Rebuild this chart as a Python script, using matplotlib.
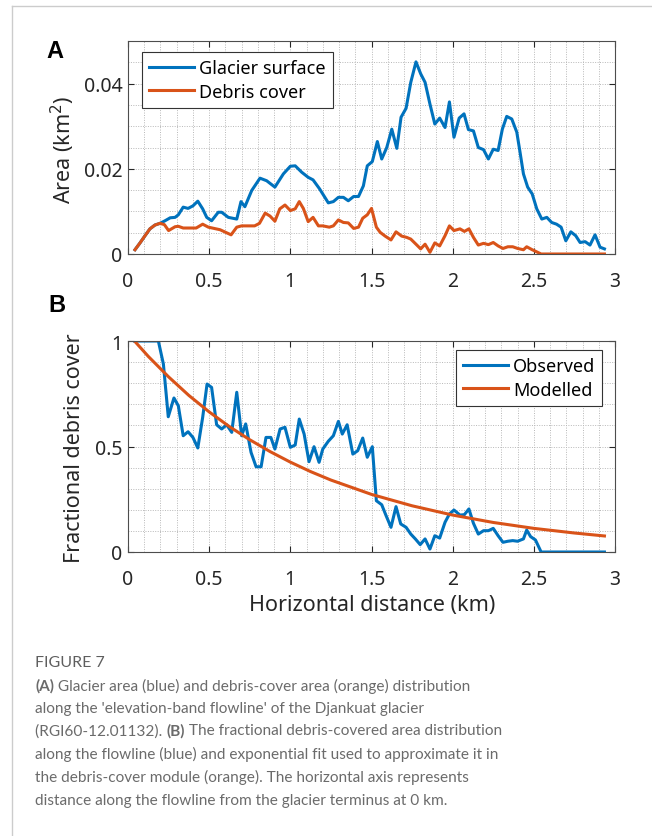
import matplotlib
matplotlib.use('Agg')
import matplotlib.pyplot as plt
from matplotlib.lines import Line2D
from matplotlib.ticker import MultipleLocator

# ---- data ----
# panel A, glacier surface area per elevation band (km2)
glac_x = [0.043, 0.074, 0.105, 0.135, 0.166, 0.197, 0.228, 0.26, 0.29, 0.31,
          0.34, 0.37, 0.40, 0.43, 0.46, 0.485, 0.515, 0.556, 0.577, 0.618,
          0.67, 0.696, 0.72, 0.762, 0.813, 0.854, 0.905, 0.957, 1.0, 1.03,
          1.07, 1.11, 1.14, 1.18, 1.234, 1.265, 1.296, 1.327, 1.357, 1.39,
          1.42, 1.45, 1.474, 1.505, 1.536, 1.563, 1.594, 1.625, 1.656, 1.682,
          1.713, 1.742, 1.774, 1.803, 1.83, 1.86, 1.89, 1.92, 1.953, 1.98,
          2.008, 2.04, 2.07, 2.097, 2.128, 2.158, 2.19, 2.22, 2.25, 2.28,
          2.306, 2.333, 2.364, 2.395, 2.415, 2.436, 2.462, 2.49, 2.518, 2.549,
          2.58, 2.61, 2.64, 2.668, 2.697, 2.728, 2.758, 2.785, 2.816, 2.846,
          2.877, 2.908, 2.935]
glac_area = [0.001, 0.0026, 0.0043, 0.0059, 0.0068, 0.0072, 0.0078, 0.0085, 0.0086, 0.0092,
             0.011, 0.0107, 0.0113, 0.0124, 0.0106, 0.0086, 0.0078, 0.0098, 0.0098, 0.0086,
             0.0082, 0.0123, 0.0111, 0.0149, 0.0178, 0.0172, 0.0157, 0.0188, 0.0206, 0.0207,
             0.0192, 0.018, 0.0174, 0.0153, 0.012, 0.0123, 0.0133, 0.0133, 0.0125, 0.0135,
             0.0135, 0.016, 0.0207, 0.0217, 0.0264, 0.0223, 0.025, 0.0293, 0.0248, 0.0321,
             0.0342, 0.0403, 0.0451, 0.0423, 0.0403, 0.0352, 0.0305, 0.0319, 0.0297, 0.0357,
             0.0274, 0.0319, 0.0329, 0.0292, 0.0289, 0.025, 0.0245, 0.0223, 0.0246, 0.0243,
             0.0293, 0.0323, 0.0317, 0.0286, 0.0239, 0.0188, 0.0157, 0.0141, 0.0106, 0.0082,
             0.0086, 0.0074, 0.007, 0.0063, 0.0031, 0.0052, 0.0043, 0.0027, 0.0029, 0.0021,
             0.0045, 0.0016, 0.0012]

# panel A, debris-covered area (km2)
debris_x = [0.043, 0.074, 0.105, 0.135, 0.166, 0.197, 0.224, 0.25, 0.29, 0.31,
            0.34, 0.42, 0.46, 0.495, 0.567, 0.635, 0.67, 0.70, 0.78, 0.81,
            0.845, 0.875, 0.905, 0.935, 0.967, 1.0, 1.03, 1.055, 1.08, 1.11,
            1.14, 1.173, 1.2, 1.24, 1.265, 1.296, 1.327, 1.357, 1.39, 1.42,
            1.446, 1.474, 1.5, 1.53, 1.553, 1.584, 1.62, 1.651, 1.686, 1.717,
            1.742, 1.774, 1.803, 1.83, 1.86, 1.89, 1.92, 1.953, 1.98, 2.008,
            2.045, 2.072, 2.1, 2.128, 2.158, 2.19, 2.22, 2.25, 2.28, 2.31,
            2.34, 2.37, 2.4, 2.436, 2.456, 2.49, 2.518, 2.545, 2.935]
debris_area = [0.001, 0.0026, 0.0043, 0.0059, 0.0068, 0.0072, 0.0069, 0.0055, 0.0064, 0.0065,
               0.0061, 0.0061, 0.007, 0.0063, 0.0057, 0.0045, 0.0063, 0.0066, 0.0066, 0.0072,
               0.0096, 0.0089, 0.0077, 0.0106, 0.0115, 0.0102, 0.0106, 0.0123, 0.0107, 0.0076,
               0.0086, 0.0066, 0.0066, 0.0063, 0.0066, 0.008, 0.0074, 0.0073, 0.006, 0.0063,
               0.0084, 0.0092, 0.0107, 0.0063, 0.0051, 0.0042, 0.0033, 0.0052, 0.0042, 0.0039,
               0.0035, 0.0023, 0.0012, 0.0023, 0.0004, 0.0026, 0.0019, 0.0043, 0.0066, 0.0055,
               0.0059, 0.0053, 0.0059, 0.0039, 0.0021, 0.0025, 0.0022, 0.0027, 0.0019, 0.0013,
               0.0017, 0.0017, 0.0013, 0.001, 0.0017, 0.001, 0.0005, 0.0, 0.0]

# panel B, observed fractional debris cover
obs_x = [0.04, 0.187, 0.218, 0.248, 0.283, 0.31, 0.34, 0.37, 0.40, 0.43,
         0.46, 0.487, 0.515, 0.546, 0.577, 0.608, 0.639, 0.67, 0.70, 0.725,
         0.758, 0.789, 0.82, 0.85, 0.88, 0.905, 0.937, 0.967, 1.0, 1.03,
         1.055, 1.085, 1.115, 1.146, 1.177, 1.2, 1.234, 1.265, 1.296, 1.32,
         1.35, 1.385, 1.415, 1.446, 1.474, 1.505, 1.53, 1.563, 1.59, 1.62,
         1.651, 1.68, 1.713, 1.742, 1.77, 1.8, 1.83, 1.86, 1.89, 1.92,
         1.953, 1.98, 2.008, 2.045, 2.072, 2.1, 2.128, 2.158, 2.19, 2.22,
         2.25, 2.28, 2.31, 2.34, 2.37, 2.4, 2.436, 2.456, 2.48, 2.51,
         2.545, 2.935]
obs_frac = [1.0, 1.0, 0.891, 0.641, 0.73, 0.693, 0.551, 0.57, 0.543, 0.493,
            0.638, 0.796, 0.78, 0.603, 0.583, 0.603, 0.567, 0.757, 0.551, 0.607,
            0.472, 0.404, 0.404, 0.543, 0.543, 0.488, 0.583, 0.591, 0.496, 0.507,
            0.63, 0.559, 0.428, 0.499, 0.425, 0.488, 0.525, 0.551, 0.619, 0.559,
            0.603, 0.464, 0.48, 0.54, 0.449, 0.499, 0.243, 0.224, 0.172, 0.117,
            0.215, 0.133, 0.117, 0.085, 0.062, 0.035, 0.062, 0.014, 0.077, 0.066,
            0.141, 0.18, 0.199, 0.175, 0.177, 0.204, 0.136, 0.085, 0.101, 0.101,
            0.112, 0.077, 0.046, 0.051, 0.054, 0.051, 0.062, 0.104, 0.073, 0.057,
            0.0, 0.0]

# panel B, modelled (exponential fit) values
mod_x = [0.04, 0.125, 0.25, 0.375, 0.5, 0.625, 0.75, 0.875, 1.0, 1.125,
         1.25, 1.5, 1.75, 2.0, 2.25, 2.5, 2.75, 2.935]
mod_frac = [1.0, 0.927, 0.83, 0.742, 0.664, 0.594, 0.532, 0.476, 0.426, 0.381,
            0.341, 0.273, 0.219, 0.175, 0.14, 0.112, 0.09, 0.076]

x_ticks = [0, 0.5, 1, 1.5, 2, 2.5, 3]
x_tick_labels = ['0', '0.5', '1', '1.5', '2', '2.5', '3']

caption_lines = [
    [('(A)', True), (' Glacier area (blue) and debris-cover area (orange) distribution', False)],
    [("along the 'elevation-band flowline' of the Djankuat glacier", False)],
    [('(RGI60-12.01132). ', False), ('(B)', True), (' The fractional debris-covered area distribution', False)],
    [('along the flowline (blue) and exponential fit used to approximate it in', False)],
    [('the debris-cover module (orange). The horizontal axis represents', False)],
    [('distance along the flowline from the glacier terminus at 0 km.', False)],
]

BLUE = '#0072BD'
ORANGE = '#D95319'
W, H = 652, 837

plt.rcParams['font.family'] = ['Noto Sans', 'DejaVu Sans']

fig = plt.figure(figsize=(W / 100, H / 100), dpi=100)


def px_axes(left, top, right, bottom):
    return fig.add_axes([left / W, 1 - bottom / H, (right - left) / W, (bottom - top) / H])


def style_axes(ax, ymax, ymajor, yminor, yticklabels):
    ax.set_xlim(0, 3)
    ax.set_ylim(0, ymax)
    ax.set_xticks(x_ticks)
    ax.set_xticklabels(x_tick_labels)
    ax.set_yticks([i * ymajor for i in range(len(yticklabels))])
    ax.set_yticklabels(yticklabels)
    ax.xaxis.set_minor_locator(MultipleLocator(0.1))
    ax.yaxis.set_minor_locator(MultipleLocator(yminor))
    ax.grid(which='both', color='#b8b8b8', linestyle=(0, (1, 1.5)), linewidth=0.7)
    ax.set_axisbelow(True)
    ax.tick_params(which='major', direction='in', length=4, width=0.8, top=True, right=True,
                   labelsize=14, colors='#262626', pad=12.5)
    ax.tick_params(which='minor', length=0)
    ax.tick_params(axis='y', pad=4)
    for s in ax.spines.values():
        s.set_color('#4d4d4d')
        s.set_linewidth(0.8)


def add_legend(ax, loc, anchor):
    leg = ax.legend(loc=loc, bbox_to_anchor=anchor, fontsize=13,
                    handlelength=2.5, handletextpad=0.25, borderpad=0.4, labelspacing=0.32,
                    borderaxespad=0, fancybox=False, framealpha=1, edgecolor='#333333')
    leg.get_frame().set_linewidth(0.8)
    return leg


# panel A
axA = px_axes(128, 42, 615, 255)
axA.plot(glac_x, glac_area, color=BLUE, lw=2.2, label='Glacier surface')
axA.plot(debris_x, debris_area, color=ORANGE, lw=2.2, label='Debris cover')
style_axes(axA, 0.05, 0.02, 0.005, ['0', '0.02', '0.04'])
add_legend(axA, 'upper left', (0.029, 0.95))

# panel B
axB = px_axes(128, 342, 615, 553)
axB.plot(obs_x, obs_frac, color=BLUE, lw=2.2, label='Observed')
axB.plot(mod_x, mod_frac, color=ORANGE, lw=2.2, label='Modelled')
style_axes(axB, 1.0, 0.5, 0.1, ['0', '0.5', '1'])
add_legend(axB, 'upper right', (0.974, 0.959))

# axis labels and panel letters
fig.text(63 / W, 1 - 150 / H, 'Area (km$^2$)', rotation=90, ha='center', va='center',
         fontsize=15.5, color='#262626')
fig.text(75 / W, 1 - 448 / H, 'Fractional debris cover', rotation=90, ha='center', va='center',
         fontsize=15.5, color='#262626')
fig.text(372 / W, 1 - 606 / H, 'Horizontal distance (km)', ha='center', va='center',
         fontsize=15.5, color='#262626')
fig.text(55 / W, 1 - 52 / H, 'A', ha='center', va='center', fontsize=17,
         fontweight='bold', family='Liberation Sans', color='black')
fig.text(57 / W, 1 - 306 / H, 'B', ha='center', va='center', fontsize=17,
         fontweight='bold', family='Liberation Sans', color='black')

# page frame (left and top edges)
fig.add_artist(Line2D([12 / W, 12 / W], [0, 1 - 7 / H], color='#cccccc', lw=1))
fig.add_artist(Line2D([12 / W, 1], [1 - 7 / H, 1 - 7 / H], color='#cccccc', lw=1))

# caption, placed by baseline
fig.text(35 / W, 1 - 667 / H, 'FIGURE 7', ha='left', va='baseline', fontsize=11.5,
         family='Lato', color='#5e5e5e')
renderer = fig.canvas.get_renderer()
line_base = [690.5, 713, 735.5, 759, 782, 805]
for parts, yy in zip(caption_lines, line_base):
    x = 35
    for txt, bold in parts:
        t = fig.text(x / W, 1 - yy / H, txt, ha='left', va='baseline', fontsize=11.1,
                     family='Lato', fontweight='bold' if bold else 'normal', color='#6b6b6b')
        x += t.get_window_extent(renderer).width

fig.savefig('out.png', dpi=100)
